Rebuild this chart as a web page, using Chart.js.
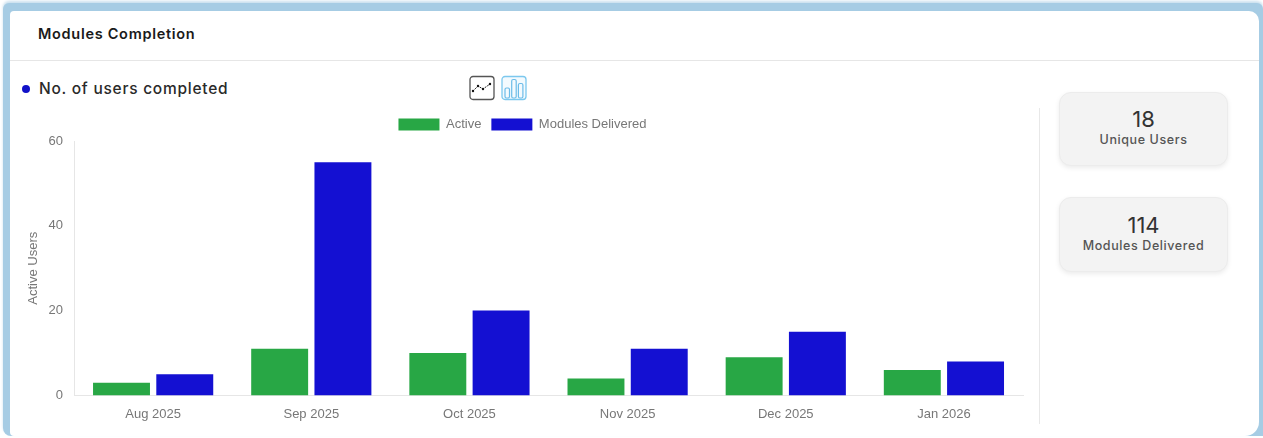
<!DOCTYPE html>
<html>
<head>
<meta charset="utf-8">
<title>Modules Completion</title>
<script src="https://cdn.jsdelivr.net/npm/chart.js@4"></script>
<style>
html, body { margin: 0; padding: 0; background: #fff; overflow: hidden; }
body { width: 1263px; height: 438px; position: relative; font-family: Inter, "Noto Sans", sans-serif; filter: blur(0.45px); }
#frame { position: absolute; left: 3px; top: 3px; width: 1260px; height: 433px; background: #a6cce4; border-radius: 6px 6px 0 8px; box-shadow: 0 -2px 3px #c8dfee; }
#card { position: absolute; left: 7px; top: 8px; width: 1249px; height: 425px; background: #fff; border-radius: 4px 10px 14px 4px; }
#head { position: absolute; left: 10px; top: 60px; width: 1249px; height: 1px; background: #e6e6e6; }
#title { position: absolute; left: 38px; top: 25px; font-size: 14.5px; font-weight: 600; color: #1a1a1a; letter-spacing: 0.7px; }
#dot { position: absolute; left: 22px; top: 85px; width: 8px; height: 8px; border-radius: 50%; background: #1212c8; }
#sub { position: absolute; left: 39px; top: 79px; font-size: 15.5px; font-weight: 500; color: #2a2a2a; letter-spacing: 0.75px; }
.icon { position: absolute; top: 75px; width: 26px; height: 26px; }
#wrap { position: absolute; left: 16px; top: 108px; width: 1012px; height: 317px; }
#divider { position: absolute; left: 1039px; top: 108px; width: 1px; height: 316px; background: #e8e8e8; }
.stat { position: absolute; left: 1059px; width: 169px; background: #f3f3f3; border: 1px solid #ececec; box-sizing: border-box; border-radius: 12px; box-shadow: 0 2px 5px rgba(0,0,0,0.08); text-align: center; color: #333; }
.stat b { display: block; font-weight: 400; font-size: 22px; line-height: 26px; margin-top: 13px; }
.stat span { display: block; font-weight: 500; font-size: 12.5px; line-height: 16px; color: #555; letter-spacing: 0.6px; }
</style>
</head>
<body>
<div id="frame"><div id="card"></div></div>
<div id="head"></div>
<div id="title">Modules Completion</div>
<div id="dot"></div>
<div id="sub">No. of users completed</div>
<svg class="icon" style="left:469px" viewBox="0 0 26 26">
  <rect x="1" y="1.5" width="24" height="23" rx="3" fill="#fff" stroke="#555" stroke-width="1.3"/>
  <polyline points="4,16 9,11 14,14 21,9" fill="none" stroke="#222" stroke-width="1" stroke-dasharray="2 1"/>
  <circle cx="4" cy="16" r="1.2" fill="#111"/><circle cx="9" cy="11" r="1.2" fill="#111"/><circle cx="14" cy="14" r="1.2" fill="#111"/><circle cx="21" cy="9" r="1.2" fill="#111"/>
</svg>
<svg class="icon" style="left:501px" viewBox="0 0 26 26">
  <rect x="1" y="1.5" width="24" height="23" rx="3" fill="#f3fafe" stroke="#7cc8ee" stroke-width="1.3"/>
  <rect x="4" y="13" width="4.5" height="10" rx="1.5" fill="none" stroke="#6cbce8" stroke-width="1.2"/>
  <rect x="10.7" y="4.5" width="4.5" height="18.5" rx="1.5" fill="none" stroke="#6cbce8" stroke-width="1.2"/>
  <rect x="17.4" y="8.5" width="4.5" height="14.5" rx="1.5" fill="none" stroke="#6cbce8" stroke-width="1.2"/>
</svg>
<div id="wrap"><canvas id="main-chart"></canvas></div>
<div id="divider"></div>
<div class="stat" style="top:92px;height:74px"><b id="stat-users"></b><span>Unique Users</span></div>
<div class="stat" style="top:197px;height:75px"><b id="stat-modules" style="margin-top:14px"></b><span>Modules Delivered</span></div>
<script>
const months = ["Aug 2025", "Sep 2025", "Oct 2025", "Nov 2025", "Dec 2025", "Jan 2026"];
const active = [3, 11, 10, 4, 9, 6];
const modules_delivered = [5, 55, 20, 11, 15, 8];
const unique_users = 18;
const total_delivered = 114;

const axis_color = "#e6e6e6";
const text_color = "#777";
const chart_font = { family: '"Liberation Sans", Arial, sans-serif', size: 13 };

document.getElementById("stat-users").innerText = unique_users;
document.getElementById("stat-modules").innerText = total_delivered;

new Chart(document.getElementById("main-chart").getContext('2d'), {
    type: 'bar',
    data: {
        labels: months,
        datasets: [
            { label: 'Active', data: active, backgroundColor: "#28a745", borderWidth: 0 },
            { label: 'Modules Delivered', data: modules_delivered, backgroundColor: "#1410d2", borderWidth: 0 }
        ]
    },
    options: {
        responsive: true,
        maintainAspectRatio: false,
        animation: false,
        layout: { padding: { top: 0, right: 5, bottom: 0, left: 6 } },
        plugins: {
            legend: {
                position: 'top',
                labels: { color: text_color, font: chart_font, boxWidth: 41, boxHeight: 12 }
            },
            tooltip: { enabled: false }
        },
        scales: {
            x: {
                grid: { display: false },
                border: { display: true, color: axis_color },
                ticks: { color: text_color, font: chart_font }
            },
            y: {
                min: 0,
                max: 60,
                grid: { display: false },
                border: { display: true, color: axis_color },
                ticks: { stepSize: 20, color: text_color, font: chart_font },
                title: { display: true, text: 'Active Users', color: text_color, font: chart_font }
            }
        }
    }
});
</script>
</body>
</html>
